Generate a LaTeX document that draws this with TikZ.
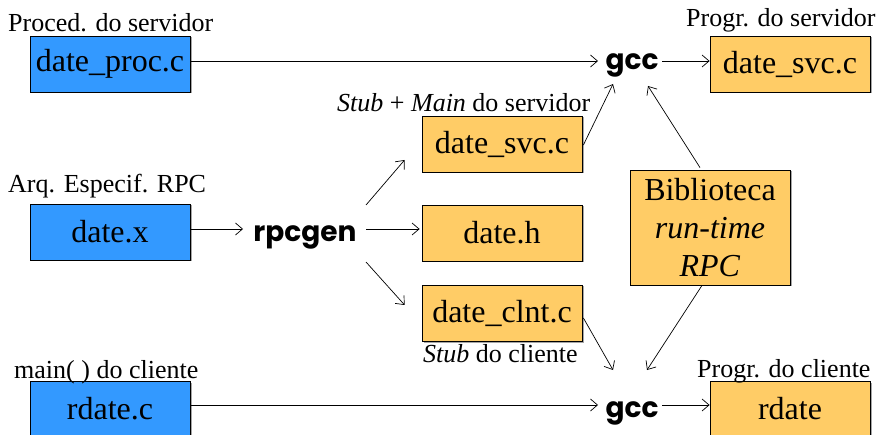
\documentclass[tikz,border=0pt]{standalone}
\usepackage{fontspec}
\setmainfont{Liberation Serif}
\newfontfamily\toolfont{Poppins}
\usetikzlibrary{arrows.meta,shadows}
\definecolor{srcblue}{HTML}{3399FF}
\definecolor{genorange}{HTML}{FFCC66}
\begin{document}
\begin{tikzpicture}[x=1pt,y=-1pt,
  file/.style={draw=black, line width=0.8pt, minimum width=160pt, minimum height=56pt,
    inner sep=0pt, font=\fontsize{32}{38}\selectfont,
    drop shadow={shadow xshift=1.5pt, shadow yshift=-1.5pt, fill=black!35, opacity=1}},
  src/.style={file, fill=srcblue},
  gen/.style={file, fill=genorange},
  tool/.style={font=\toolfont\bfseries\fontsize{28}{30}\selectfont, inner sep=0pt, anchor=base},
  caption/.style={font=\fontsize{26}{28}\selectfont, inner sep=0pt, anchor=base west},
  flow/.style={-{Straight Barb[length=7pt,width=12pt]}, line width=0.7pt}]
\useasboundingbox (0,0) rectangle (880,435);

% source files (blue)
\node[src] (proc)   at (110,64)  {date\_proc.c};
\node[src] (spec)   at (110,232) {date.x};
\node[src] (rdatec) at (110,409) {rdate.c};

% generated files and results (orange)
\node[gen] (svc)    at (502,144) {date\_svc.c};
\node[gen] (hdr)    at (502,233) {date.h};
\node[gen] (clnt)   at (502,313) {date\_clnt.c};
\node[gen] (svcout) at (790,64)  {date\_svc.c};
\node[gen] (rdate)  at (790,409) {rdate};
\node[gen, minimum height=115pt, align=center] (lib) at (710,227.5)
  {Biblioteca\\ \textit{run-time}\\ \textit{RPC}};

% tools
\node[tool] (rpcgen) at (305,242) {rpcgen};
\node[tool] (gccA)   at (632,70)  {gcc};
\node[tool] (gccB)   at (632,417) {gcc};

% captions
\node[caption] (capproc)   at (8,32)    {Proced. do servidor};
\node[caption] (capsvcout) at (686,27)  {Progr. do servidor};
\node[caption] (capsvc)    at (337,112) {\textit{Stub} + \textit{Main} do servidor};
\node[caption] (capspec)   at (8,193)   {Arq. Especif. RPC};
\node[caption] (capclnt)   at (423,362) {\textit{Stub} do cliente};
\node[caption] (caprdate)  at (697,377) {Progr. do cliente};
\node[caption] (caprdatec) at (14,378)  {main( ) do cliente};

% server side
\draw[flow] ([shift={(0,-3)}]proc.east) -- ([shift={(-34,-9)}]gccA.base);
\draw[flow] ([shift={(30,-9)}]gccA.base) -- ([shift={(0,-3)}]svcout.west);
\draw[flow] ([shift={(1,1)}]svc.east) -- ([shift={(-19,14)}]gccA.base);
\draw[flow] ([shift={(-10,-2)}]lib.north) -- ([shift={(16,16)}]gccA.base);

% rpcgen
\draw[flow] ([shift={(0,-3)}]spec.east) -- ([shift={(-62,-13)}]rpcgen.base);
\draw[flow] ([shift={(61,-37)}]rpcgen.base) -- ([shift={(-17,16)}]svc.west);
\draw[flow] ([shift={(61,-13)}]rpcgen.base) -- ([shift={(-2,-4)}]hdr.west);
\draw[flow] ([shift={(61,20)}]rpcgen.base) -- ([shift={(-17,-8)}]clnt.west);

% client side
\draw[flow] ([shift={(0,-4)}]rdatec.east) -- ([shift={(-34,-12)}]gccB.base);
\draw[flow] ([shift={(30,-12)}]gccB.base) -- ([shift={(0,-4)}]rdate.west);
\draw[flow] ([shift={(1,5)}]clnt.east) -- ([shift={(-19,-47)}]gccB.base);
\draw[flow] ([shift={(-8,0)}]lib.south) -- ([shift={(15,-47)}]gccB.base);
\end{tikzpicture}
\end{document}
